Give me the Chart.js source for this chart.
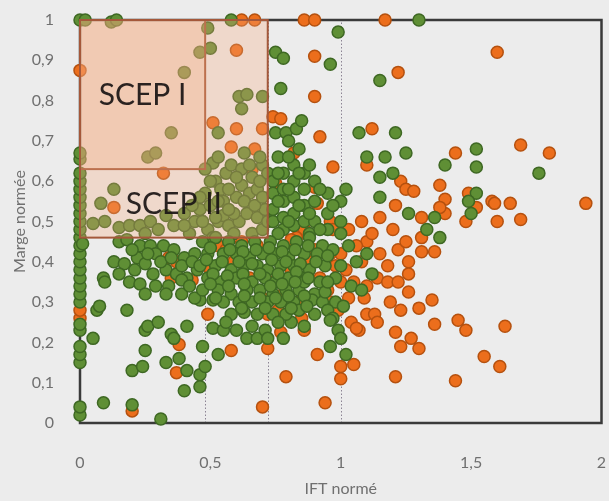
<!DOCTYPE html>
<html>
<head>
<meta charset="utf-8">
<script src="https://cdn.jsdelivr.net/npm/chart.js@4.4.1/dist/chart.umd.min.js"></script>
<style>
  html, body { margin: 0; padding: 0; background: #ececec; }
  canvas { display: block; }
</style>
</head>
<body>
<canvas id="scepChart" width="609" height="501"></canvas>
<script>
// Axis ticks
const xTicks = [0, 0.5, 1, 1.5, 2];
const yTicks = [0, 0.1, 0.2, 0.3, 0.4, 0.5, 0.6, 0.7, 0.8, 0.9, 1];

// Zones (IFT normé max, marge normée min) and dotted guides
const zoneNames = ["SCEP I", "SCEP II"];
const zoneMaxX = [0.48, 0.72];
const zoneMinY = [0.63, 0.46];
const guideX = [0.48, 0.72, 1];

// [IFT normé, marge normée]
const greenPoints = [
  [0,1],[0.02,1],[0,0.02],[0,0.04],[0,0.15],[0,0.17],[0,0.19],[0,0.23],[0,0.245],[0,0.30],[0,0.32],[0,0.34],
  [0,0.36],[0,0.38],[0,0.40],[0,0.42],[0,0.44],[0,0.46],[0,0.48],[0,0.50],[0,0.52],[0,0.54],[0,0.56],[0,0.58],
  [0,0.60],[0,0.62],[0,0.655],[0,0.67],
  [0.12,0.995],[0.14,1],[0.58,1],[1.3,1],[0.49,0.98],[0.46,0.92],[0.50,0.93],[0.40,0.87],[0.75,0.92],[0.78,0.905],
  [0.99,0.97],[0.96,0.89],[1.15,0.85],[0.77,0.83],[0.61,0.81],[0.64,0.815],[0.62,0.78],[0.70,0.81],
  [0.35,0.72],[0.53,0.72],[0.26,0.66],[0.29,0.67],[0.51,0.645],[0.53,0.66],[0.75,0.72],[0.79,0.72],[0.83,0.73],
  [0.85,0.75],[0.80,0.70],[1.07,0.72],[1.21,0.72],[1.10,0.66],[1.17,0.66],[1.25,0.67],[1.40,0.64],[1.52,0.68],
  [1.52,0.635],[1.76,0.62],[1.15,0.61],[1.20,0.62],[1.02,0.58],[1.15,0.56],[1.26,0.52],[1.36,0.51],[1.33,0.48],
  [1.38,0.46],[1.52,0.57],[1.49,0.55],[1.50,0.52],
  [0.13,0.58],[0.08,0.545],[0.095,0.50],[0.05,0.495],[0.15,0.485],[0.19,0.49],[0.23,0.49],[0.27,0.50],[0.33,0.515],
  [0.36,0.49],[0.40,0.52],[0.42,0.47],[0.44,0.50],[0.46,0.53],[0.48,0.57],[0.48,0.63],[0.49,0.48],[0.51,0.46],
  [0.50,0.54],[0.52,0.60],[0.53,0.50],[0.55,0.55],[0.55,0.515],[0.54,0.58],[0.56,0.62],[0.57,0.49],[0.58,0.64],
  [0.59,0.47],[0.60,0.56],[0.61,0.50],[0.62,0.59],[0.62,0.63],[0.63,0.67],[0.64,0.52],[0.65,0.57],[0.66,0.61],
  [0.66,0.47],[0.68,0.58],[0.68,0.51],[0.69,0.60],[0.70,0.64],[0.70,0.48],[0.71,0.53],
  [0.46,0.56],[0.50,0.60],[0.53,0.55],[0.57,0.58],[0.59,0.52],[0.63,0.55],[0.67,0.54],[0.70,0.56],[0.72,0.50],
  [0.60,0.61],[0.65,0.64],[0.57,0.53],[0.52,0.51],[0.47,0.50],[0.40,0.49],[0.30,0.48],[0.25,0.47],[0.43,0.54],
  [0.69,0.66],[0.72,0.62],
  [0.74,0.60],[0.74,0.57],[0.74,0.53],[0.74,0.50],[0.76,0.66],[0.78,0.62],[0.78,0.58],[0.78,0.55],[0.78,0.51],
  [0.78,0.48],[0.82,0.64],[0.82,0.60],[0.82,0.56],[0.82,0.52],[0.82,0.49],[0.84,0.68],[0.86,0.62],[0.86,0.58],
  [0.86,0.54],[0.86,0.50],[0.90,0.60],[0.90,0.55],[0.90,0.50],[0.95,0.57],[0.95,0.52],[0.95,0.48],[1.00,0.55],
  [1.00,0.50],[1.00,0.47],
  [0.76,0.62],[0.80,0.58],[0.84,0.54],[0.88,0.52],[0.92,0.58],[0.97,0.54],[0.80,0.50],[0.76,0.47],[0.88,0.47],
  [0.92,0.48],[0.84,0.62],[0.88,0.64],[0.80,0.66],[0.76,0.55],
  [0.01,0.445],[0.15,0.45],[0.18,0.455],[0.23,0.44],[0.27,0.44],[0.32,0.44],[0.36,0.43],[0.13,0.40],[0.17,0.395],
  [0.22,0.41],[0.25,0.395],[0.29,0.42],[0.40,0.41],[0.44,0.42],[0.33,0.38],[0.37,0.37],[0.41,0.36],[0.45,0.38],
  [0.09,0.36],[0.095,0.35],[0.19,0.35],[0.23,0.345],[0.34,0.34],[0.065,0.28],[0.075,0.29],[0.18,0.28],[0.33,0.32],
  [0.39,0.32],[0.46,0.305],[0.51,0.305],[0.25,0.23],[0.26,0.24],[0.30,0.25],[0.25,0.18],[0.35,0.22],[0.36,0.21],
  [0.41,0.24],[0.05,0.21],[0.20,0.13],[0.24,0.14],[0.33,0.15],[0.38,0.16],[0.41,0.13],[0.46,0.12],[0.48,0.14],
  [0.47,0.19],[0.53,0.17],[0.40,0.08],[0.46,0.09],[0.09,0.05],[0.20,0.045],[0.31,0.01],
  [0.20,0.43],[0.26,0.42],[0.31,0.40],[0.35,0.41],[0.39,0.39],[0.43,0.40],[0.21,0.38],[0.28,0.37],[0.15,0.37],
  [0.39,0.355],[0.42,0.34],[0.44,0.31],[0.29,0.34],[0.25,0.32],
  [0.51,0.235],[0.55,0.23],[0.60,0.23],[0.63,0.275],[0.64,0.21],[0.68,0.21],[0.71,0.23],[0.81,0.25],[0.96,0.19],
  [0.47,0.45],[0.52,0.46],[0.57,0.45],[0.62,0.44],[0.67,0.45],[0.73,0.45],[0.78,0.44],[0.83,0.45],[0.88,0.46],[0.93,0.44],
  [0.49,0.42],[0.55,0.42],[0.60,0.42],[0.65,0.41],[0.70,0.42],[0.75,0.42],[0.80,0.41],[0.86,0.42],[0.91,0.42],[0.97,0.43],
  [0.46,0.39],[0.52,0.39],[0.58,0.38],[0.63,0.39],[0.68,0.39],[0.72,0.38],[0.77,0.39],[0.82,0.39],[0.88,0.38],
  [0.94,0.39],[1.00,0.39],
  [0.49,0.36],[0.54,0.35],[0.60,0.36],[0.66,0.35],[0.71,0.36],[0.75,0.35],[0.80,0.36],[0.85,0.36],[0.92,0.35],[0.98,0.36],
  [0.47,0.33],[0.53,0.33],[0.58,0.32],[0.64,0.33],[0.69,0.33],[0.74,0.32],[0.79,0.33],[0.84,0.33],[0.90,0.32],[1.04,0.34],
  [0.55,0.30],[0.61,0.30],[0.66,0.30],[0.72,0.30],[0.77,0.30],[0.82,0.30],[0.89,0.305],[0.93,0.30],[0.98,0.30],
  [0.58,0.27],[0.68,0.27],[0.74,0.27],[0.79,0.27],[0.84,0.28],[0.90,0.27],[0.95,0.28],
  [0.56,0.25],[0.66,0.24],[0.76,0.25],[0.86,0.24],[0.97,0.26],[0.99,0.23],
  [0.72,0.21],[0.78,0.21],[1.00,0.21],[1.02,0.17],
  [0.86,0.35],[0.94,0.325],[0.96,0.255],[1.01,0.29],[1.06,0.40],[1.10,0.42],[1.12,0.37],[1.08,0.33],[1.03,0.44],
  [0.50,0.435],[0.575,0.43],[0.625,0.425],[0.675,0.43],[0.725,0.435],[0.775,0.425],[0.825,0.43],[0.875,0.44],
  [0.95,0.415],[0.485,0.405],[0.545,0.40],[0.61,0.40],[0.66,0.395],[0.735,0.405],[0.79,0.40],[0.845,0.395],
  [0.905,0.40],[0.51,0.37],[0.565,0.365],[0.625,0.37],[0.69,0.37],[0.76,0.37],[0.83,0.375],[0.875,0.36],
  [0.50,0.345],[0.57,0.34],[0.63,0.345],[0.73,0.34],[0.775,0.345],[0.825,0.35],[0.95,0.35],
  [0.52,0.31],[0.63,0.315],[0.69,0.31],[0.75,0.31],[0.80,0.315],[0.86,0.315],
  [0.62,0.285],[0.71,0.285],[0.81,0.285],[0.87,0.29]
];

const orangePoints = [
  [0,0.26],[0,0.28],[0,0.875],
  [0.62,1],[0.67,1],[0.86,1],[0.90,1],[1.17,1],
  [1.60,0.92],[1.22,0.87],[0.90,0.91],[0.90,0.81],[0.60,0.925],[1.12,0.73],[0.92,0.71],[1.10,0.64],[0.97,0.635],
  [0.74,0.76],[0.77,0.755],[0.51,0.745],[0.60,0.73],[0.70,0.73],[0.58,0.685],[0.67,0.68],[0.82,0.67],[0.66,0.63],
  [0.32,0.62],[0.13,0.535],[0.75,0.595],[0.90,0.585],[0.91,0.545],[0.96,0.50],[0.97,0.48],[0.86,0.48],
  [1.23,0.60],[1.25,0.58],[1.28,0.575],[1.21,0.54],[1.44,0.67],[1.69,0.69],[1.80,0.67],[1.38,0.59],[1.49,0.57],
  [1.52,0.535],[1.48,0.50],[1.40,0.555],[1.40,0.52],[1.38,0.535],[1.31,0.51],[1.31,0.46],[1.58,0.55],[1.59,0.545],
  [1.65,0.545],[1.60,0.50],[1.69,0.505],[1.94,0.545],
  [1.26,0.40],[1.31,0.425],[1.36,0.425],[1.14,0.36],[1.18,0.35],[1.22,0.35],[1.26,0.37],[1.09,0.31],[1.10,0.34],
  [1.26,0.325],[1.35,0.305],[1.19,0.30],[1.23,0.28],[1.30,0.285],[1.10,0.27],[1.13,0.27],[1.14,0.25],[1.36,0.245],
  [1.45,0.255],[1.48,0.23],[1.63,0.24],[1.21,0.225],[1.27,0.21],[1.30,0.185],[1.23,0.19],[1.05,0.145],[1.00,0.14],
  [1.00,0.11],[1.21,0.115],[1.44,0.105],[1.55,0.165],[1.61,0.14],[1.04,0.25],[1.07,0.23],[1.06,0.235],[0.91,0.17],
  [0.94,0.05],[0.86,0.23],[0.77,0.225],[0.72,0.185],[0.79,0.115],[0.70,0.04],[0.58,0.18],[0.49,0.27],[0.38,0.195],
  [0.37,0.125],[0.20,0.03],
  [0.53,0.44],[0.56,0.43],[0.83,0.46],[0.81,0.455],[0.90,0.43],[0.50,0.38],[0.59,0.40],[0.81,0.38],[0.86,0.405],
  [0.98,0.39],[0.34,0.41],[0.37,0.40],[0.43,0.355],[0.35,0.36],
  [0.88,0.40],[0.92,0.36],[0.95,0.33],[1.00,0.42],[1.02,0.38],[1.05,0.35],[1.08,0.40],[1.03,0.31],[0.99,0.28],
  [0.96,0.30],[1.10,0.45],[1.15,0.42],[1.12,0.47],[1.18,0.39],[1.22,0.43],[1.06,0.44],[0.84,0.30],[0.78,0.32],
  [0.74,0.35],[0.70,0.31],[0.65,0.36],[0.62,0.45],[0.68,0.44],[0.76,0.28],[0.72,0.27],[0.85,0.26],[0.96,0.42],
  [1.00,0.35],[1.08,0.50],[1.03,0.48],[1.15,0.51],[1.20,0.48],[1.25,0.45]
];

const tickColor = "#707070";
const fontFamily = "Lato, 'Open Sans', sans-serif";
const formatTick = (value) => String(Math.round(value * 10) / 10).replace(".", ",");

const zonesPlugin = {
  id: "zones",
  beforeDraw(chart) {
    const { ctx, width, height } = chart;
    ctx.save();
    ctx.fillStyle = "#ececec";
    ctx.fillRect(0, 0, width, height);
    ctx.restore();
  },
  beforeDatasetsDraw(chart) {
    const { ctx, chartArea, scales } = chart;
    const top = scales.y.getPixelForValue(1);
    const bottom = scales.y.getPixelForValue(0);

    ctx.save();
    ctx.strokeStyle = "#8c8494";
    ctx.lineWidth = 1;
    ctx.setLineDash([1.5, 2]);
    guideX.forEach((value) => {
      const px = Math.round(scales.x.getPixelForValue(value)) + 0.5;
      ctx.beginPath();
      ctx.moveTo(px, bottom);
      ctx.lineTo(px, top);
      ctx.stroke();
    });

    ctx.setLineDash([]);
    ctx.strokeStyle = "#3a3a3a";
    ctx.lineWidth = 2.5;
    ctx.strokeRect(chartArea.left, chartArea.top, chartArea.width, chartArea.height);
    ctx.restore();
  },
  afterDatasetsDraw(chart) {
    const { ctx, scales } = chart;
    const left = scales.x.getPixelForValue(0);
    const top = scales.y.getPixelForValue(1);

    ctx.save();
    zoneNames.forEach((name, i) => {
      const right = scales.x.getPixelForValue(zoneMaxX[i]);
      const bottom = scales.y.getPixelForValue(zoneMinY[i]);
      ctx.fillStyle = "rgba(245, 168, 125, 0.3)";
      ctx.fillRect(left, top, right - left, bottom - top);
      ctx.strokeStyle = "#a4583a";
      ctx.lineWidth = 2;
      ctx.strokeRect(left, top, right - left, bottom - top);
    });

    ctx.fillStyle = "rgba(25, 20, 20, 0.92)";
    ctx.font = "30px " + fontFamily;
    ctx.textAlign = "center";
    ctx.textBaseline = "middle";
    zoneNames.forEach((name, i) => {
      const right = scales.x.getPixelForValue(zoneMaxX[i]);
      const bottom = scales.y.getPixelForValue(zoneMinY[i]);
      const upper = i === 0 ? top : scales.y.getPixelForValue(zoneMinY[i - 1]);
      ctx.fillText(name, (left + right) / 2, (upper + bottom) / 2 + 1);
    });
    ctx.restore();
  }
};

new Chart(document.getElementById("scepChart"), {
  type: "scatter",
  data: {
    datasets: [
      {
        label: "Vert",
        data: greenPoints.map(([x, y]) => ({ x, y })),
        backgroundColor: "#5f8f35",
        borderColor: "#3e6823",
        borderWidth: 1.5,
        pointRadius: 6,
        clip: false
      },
      {
        label: "Orange",
        data: orangePoints.map(([x, y]) => ({ x, y })),
        backgroundColor: "#ec6e1c",
        borderColor: "#b5510f",
        borderWidth: 1.5,
        pointRadius: 6,
        clip: false
      }
    ]
  },
  options: {
    responsive: false,
    animation: false,
    layout: { padding: { top: 20, right: 0, left: 0, bottom: 0 } },
    plugins: {
      legend: { display: false },
      tooltip: { enabled: false }
    },
    scales: {
      x: {
        type: "linear",
        min: 0,
        max: 2,
        grid: { display: false },
        border: { display: false },
        afterBuildTicks(scale) {
          scale.ticks = xTicks.map((value) => ({ value }));
        },
        afterFit(scale) {
          scale.height = 78;
          scale.paddingLeft = 0;
          scale.paddingRight = 0;
        },
        ticks: {
          color: tickColor,
          font: { family: fontFamily, size: 16 },
          padding: 22,
          maxRotation: 0,
          callback: formatTick
        },
        title: {
          display: true,
          text: "IFT normé",
          color: tickColor,
          font: { family: fontFamily, size: 16 },
          padding: { top: 0, bottom: 3 }
        }
      },
      y: {
        type: "linear",
        min: 0,
        max: 1,
        grid: { display: false },
        border: { display: false },
        afterBuildTicks(scale) {
          scale.ticks = yTicks.map((value) => ({ value }));
        },
        afterFit(scale) {
          scale.width = 80;
          scale.paddingTop = 0;
          scale.paddingBottom = 0;
        },
        ticks: {
          color: tickColor,
          font: { family: fontFamily, size: 16 },
          padding: 18,
          callback: formatTick
        },
        title: {
          display: true,
          text: "Marge normée",
          color: tickColor,
          font: { family: fontFamily, size: 16 },
          padding: { top: 10, bottom: 0 }
        }
      }
    }
  },
  plugins: [zonesPlugin]
});
</script>
</body>
</html>
